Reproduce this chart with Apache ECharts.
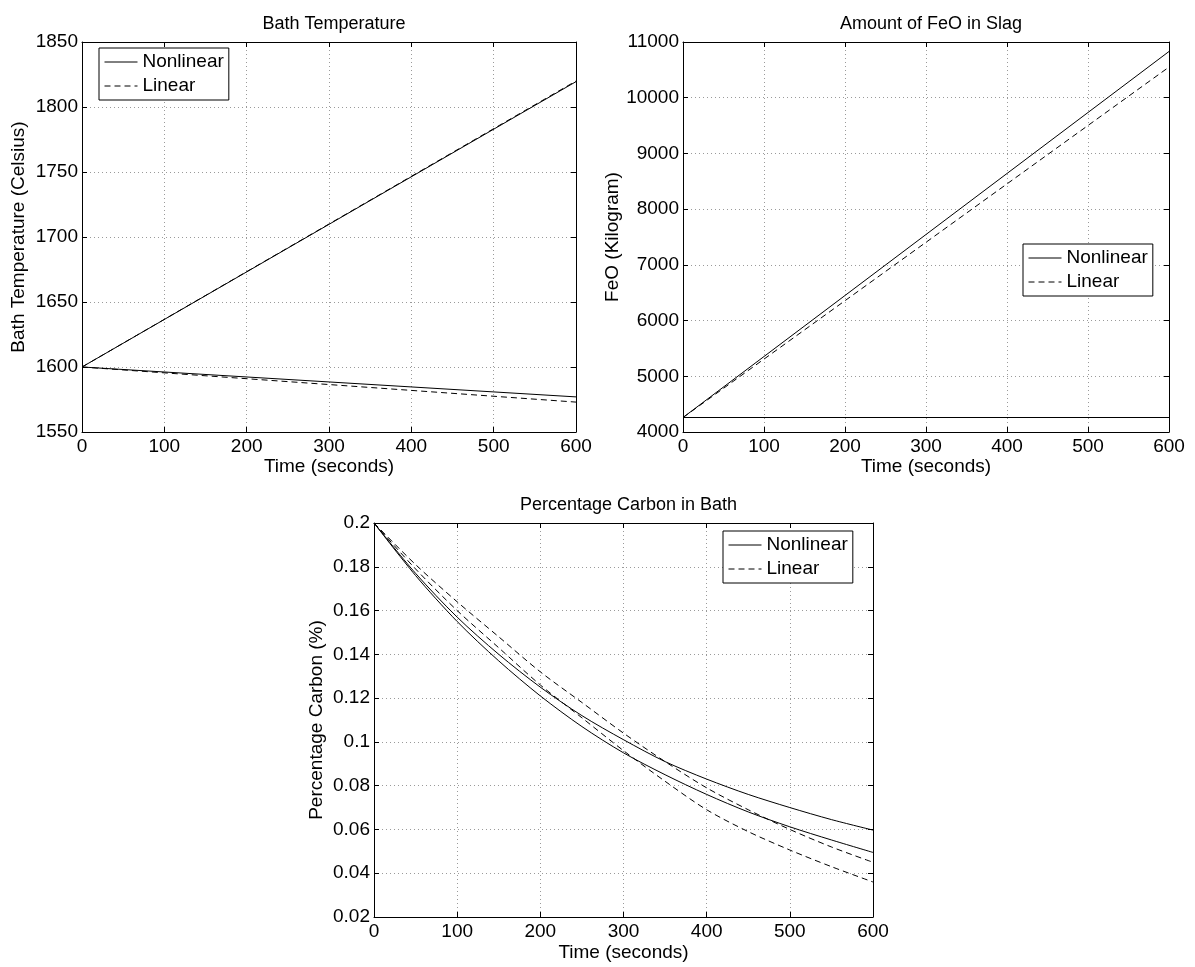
<!DOCTYPE html>
<html><head><meta charset="utf-8">
<script src="https://cdn.jsdelivr.net/npm/echarts@6/dist/echarts.min.js"></script>
<style>html,body{margin:0;padding:0;background:#fff}#c{width:1195px;height:967px}</style>
</head><body><div id="c"></div>
<script>
// ---- data ----
const tEnds = [0, 600];
const tempNonlinearUp = [1600, 1819.5];
const tempLinearUp = [1600, 1820];
const tempNonlinearDown = [1600, 1577];
const tempLinearDown = [1600, 1573];

const feoNonlinearUp = [4260, 10830];
const feoLinearUp = [4260, 10550];
const feoNonlinearFlat = [4260, 4260];
const feoLinearFlat = [4260, 4260];

const tCarbon = [0, 50, 100, 150, 200, 250, 300, 350, 400, 450, 500, 550, 600];
const carbonNonlinearA = [0.2, 0.177, 0.157, 0.140, 0.125, 0.112, 0.101, 0.091, 0.083, 0.076, 0.070, 0.0645, 0.0597];
const carbonNonlinearB = [0.2, 0.176, 0.155, 0.137, 0.121, 0.107, 0.095, 0.085, 0.076, 0.068, 0.0612, 0.0552, 0.0495];
const carbonLinearA = [0.2, 0.181, 0.164, 0.148, 0.132, 0.118, 0.104, 0.091, 0.079, 0.069, 0.060, 0.052, 0.045];
const carbonLinearB = [0.2, 0.179, 0.160, 0.143, 0.126, 0.111, 0.096, 0.082, 0.069, 0.059, 0.0506, 0.043, 0.036];

const titles = ['Bath Temperature', 'Amount of FeO in Slag', 'Percentage Carbon in Bath'];
const yNames = ['Bath Temperature (Celsius)', 'FeO (Kilogram)', 'Percentage Carbon (%)'];
const xName = 'Time (seconds)';
const legendNames = ['Nonlinear', 'Linear'];

// ---- layout ----
const FONT = 'Liberation Sans, Arial, sans-serif';
const grids = [
  {left: 82, top: 42, width: 494, height: 390},
  {left: 683, top: 42, width: 486, height: 390},
  {left: 374, top: 523, width: 499, height: 394}
];
const yRanges = [
  {min: 1550, max: 1850, interval: 50, gap: 54},
  {min: 4000, max: 11000, interval: 1000, gap: 53},
  {min: 0.02, max: 0.2, interval: 0.02, gap: 48}
];
const xGaps = [24, 24, 26];

const pairs = (xs, ys) => xs.map((x, i) => [x, ys[i]]);
const fmt = v => String(Number(v.toFixed(4)));

const xAxis = [], yAxis = [];
grids.forEach((g, i) => {
  const common = {
    type: 'value', gridIndex: i, min: 0, max: 600, interval: 100,
    axisLine: {show: true, onZero: false, lineStyle: {color: '#000', width: 1}},
    axisTick: {show: true, inside: true, length: 5, lineStyle: {color: '#000'}}
  };
  xAxis.push(Object.assign({}, common, {
    position: 'bottom', name: xName, nameLocation: 'middle', nameGap: xGaps[i],
    nameTextStyle: {color: '#000', fontSize: 19, fontFamily: FONT, verticalAlign: 'top'},
    axisLabel: {color: '#000', fontSize: 19, fontFamily: FONT, margin: 5},
    splitLine: {show: true, lineStyle: {color: '#9a9a9a', type: [1, 3], width: 1}}
  }));
  xAxis.push(Object.assign({}, common, {
    position: 'top', axisLabel: {show: false}, splitLine: {show: false}
  }));
  const r = yRanges[i];
  const ycommon = {
    type: 'value', gridIndex: i, min: r.min, max: r.max, interval: r.interval,
    axisLine: {show: true, onZero: false, lineStyle: {color: '#000', width: 1}},
    axisTick: {show: true, inside: true, length: 5, lineStyle: {color: '#000'}}
  };
  yAxis.push(Object.assign({}, ycommon, {
    position: 'left', name: yNames[i], nameLocation: 'middle', nameGap: r.gap, nameRotate: 90,
    nameTextStyle: {color: '#000', fontSize: 19, fontFamily: FONT},
    axisLabel: {color: '#000', fontSize: 19, fontFamily: FONT, margin: 4, formatter: fmt},
    splitLine: {show: true, lineStyle: {color: '#9a9a9a', type: [1, 3], width: 1}}
  }));
  yAxis.push(Object.assign({}, ycommon, {
    position: 'right', axisLabel: {show: false}, splitLine: {show: false}
  }));
});

const solid = {color: '#000', width: 1, type: 'solid'};
const dashed = {color: '#000', width: 1, type: [6, 4]};
function line(name, gi, data, style, smooth) {
  return {
    name, type: 'line', xAxisIndex: gi * 2, yAxisIndex: gi * 2, data,
    symbol: 'none', smooth: smooth ? 0.3 : false, lineStyle: style,
    itemStyle: {color: 'rgba(0,0,0,0)', borderColor: 'rgba(0,0,0,0)', borderWidth: 0},
    animation: false, silent: true
  };
}
const series = [
  line('Nonlinear', 0, pairs(tEnds, tempNonlinearUp), solid),
  line('Linear', 0, pairs(tEnds, tempLinearUp), dashed),
  line('Nonlinear', 0, pairs(tEnds, tempNonlinearDown), solid),
  line('Linear', 0, pairs(tEnds, tempLinearDown), dashed),
  line('Nonlinear', 1, pairs(tEnds, feoNonlinearUp), solid),
  line('Linear', 1, pairs(tEnds, feoLinearUp), dashed),
  line('Nonlinear', 1, pairs(tEnds, feoNonlinearFlat), solid),
  line('Linear', 1, pairs(tEnds, feoLinearFlat), dashed),
  line('Nonlinear', 2, pairs(tCarbon, carbonNonlinearA), solid, true),
  line('Nonlinear', 2, pairs(tCarbon, carbonNonlinearB), solid, true),
  line('Linear', 2, pairs(tCarbon, carbonLinearA), dashed, true),
  line('Linear', 2, pairs(tCarbon, carbonLinearB), dashed, true)
];

const legendPos = [{left: 99, top: 48}, {left: 1023, top: 244}, {left: 723, top: 531}];
const legend = legendPos.map(p => ({
  left: p.left, top: p.top, orient: 'vertical', data: legendNames,
  backgroundColor: '#fff', borderColor: '#000', borderWidth: 1, borderRadius: 0,
  padding: [3, 5, 3, 5], itemGap: 2, itemWidth: 33, itemHeight: 14,
  selectedMode: false,
  itemStyle: {color: 'rgba(0,0,0,0)', borderColor: 'rgba(0,0,0,0)', borderWidth: 0},
  lineStyle: {color: '#000', width: 1, type: 'inherit'},
  textStyle: {color: '#000', fontSize: 19, fontFamily: FONT, lineHeight: 22}
}));

const title = titles.map((t, i) => ({
  text: t, left: grids[i].left + grids[i].width / 2, top: i < 2 ? 10 : 491, textAlign: 'center',
  textStyle: {color: '#000', fontSize: 18, fontWeight: 'normal', fontFamily: FONT}
}));

const chart = echarts.init(document.getElementById('c'), null, {renderer: 'canvas'});
chart.setOption({animation: false, backgroundColor: '#fff', title, legend, grid: grids, xAxis, yAxis, series});
</script></body></html>
